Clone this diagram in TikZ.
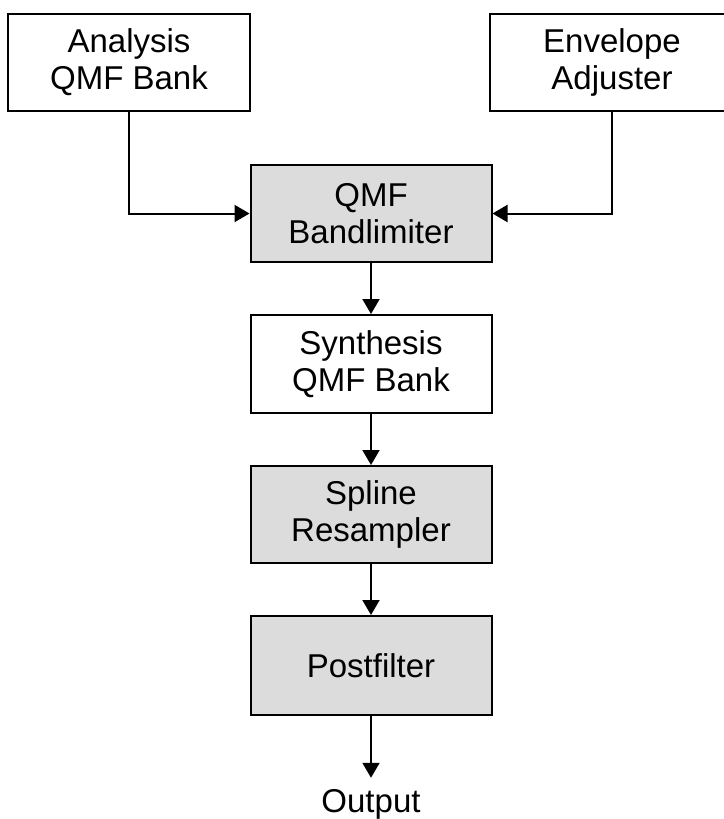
\documentclass[tikz,border=0pt]{standalone}
\usepackage{fontspec}
\setmainfont{Liberation Sans}
\usetikzlibrary{arrows.meta}
\definecolor{boxgray}{HTML}{DCDCDC}
\begin{document}
\begin{tikzpicture}[x=1pt,y=-1pt,
  blk/.style={draw=black, line width=2pt, inner sep=0pt, align=center,
    font=\fontsize{33}{37}\selectfont},
  grayblk/.style={blk, fill=boxgray},
  conn/.style={line width=2pt, -{Triangle[length=15pt,width=17pt]}}]
\useasboundingbox (0,0) rectangle (723,819);
\node[blk, minimum width=242pt, minimum height=97pt] (ana) at (129,62.5) {Analysis\\QMF Bank};
\node[blk, minimum width=244pt, minimum height=97pt] (env) at (612,62.5) {Envelope\\Adjuster};
\node[grayblk, minimum width=241pt, minimum height=97pt] (bl) at (371,213.5) {QMF\\Bandlimiter};
\node[blk, minimum width=241pt, minimum height=98pt] (syn) at (371,364) {Synthesis\\QMF Bank};
\node[grayblk, minimum width=241pt, minimum height=97pt] (spl) at (371,514.5) {Spline\\Resampler};
\node[grayblk, minimum width=241pt, minimum height=99pt] (post) at (371,665.5) {Postfilter};
\node[anchor=base, inner xsep=0pt, inner ysep=11pt, font=\fontsize{33}{37}\selectfont] (out) at (371,812) {Output};
\draw[conn] (ana.south) |- (bl.west);
\draw[conn] (env.south) |- (bl.east);
\draw[conn] (bl.south) -- (syn.north);
\draw[conn] (syn.south) -- (spl.north);
\draw[conn] (spl.south) -- (post.north);
\draw[conn] (post.south) -- (out.north);
\end{tikzpicture}
\end{document}
